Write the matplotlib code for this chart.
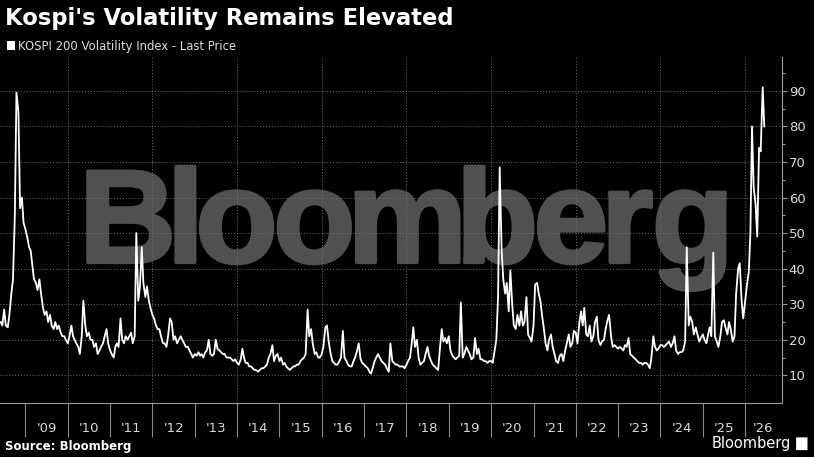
import pandas as pd
import matplotlib
matplotlib.use("Agg")
import matplotlib.pyplot as plt
import matplotlib.dates as mdates
from matplotlib.ticker import FixedLocator, FixedFormatter, NullFormatter
from matplotlib.textpath import TextPath
from matplotlib.path import Path
from matplotlib.patches import PathPatch, Patch, FancyBboxPatch
from matplotlib.font_manager import FontProperties
from matplotlib.transforms import Affine2D

vix_2008 = [25, 24, 28.5, 24, 23.5, 27, 33, 37, 55, 89.5, 84, 57, 60, 53]  # from June
vix_2009 = [51, 49, 46, 45, 41, 37, 36, 34, 37, 33, 29, 27, 28, 25, 27, 24, 23, 25, 23, 24, 22, 21, 21, 20]
vix_2010 = [19, 21, 24, 21, 20, 19, 18, 16, 21, 31, 24, 21, 22, 20, 20, 18, 19, 16, 17, 18, 19, 21, 23, 19]
vix_2011 = [17, 16, 15, 18, 19, 18, 26, 20, 19, 21, 20, 21, 22, 19, 21, 50, 31, 35, 46, 36, 32, 35, 31, 29]
vix_2012 = [27, 26, 24, 23, 23, 21, 19, 19, 18, 21, 26, 25, 20, 21, 19, 20, 21, 20, 19, 18, 18, 17, 16, 15]
vix_2013 = [16, 15.5, 16.5, 15.5, 16, 15, 16.5, 17, 20, 16, 15.5, 16, 20, 17.5, 17, 16.5, 16, 16, 15, 15, 15, 14.5, 14, 14.5]
vix_2014 = [13.5, 13, 14.5, 17.5, 15, 13.5, 13.5, 12.5, 12.5, 12, 11.5, 11.5, 11, 11.5, 12, 12, 12.5, 13, 15, 16, 18.5, 14, 15.5, 16]
vix_2015 = [14, 15, 13, 13.5, 12.5, 12, 11.5, 12, 12.5, 12.5, 13, 13, 14, 14.5, 15, 16, 28.5, 21, 23, 19, 16, 16.5, 15, 15]
vix_2016 = [16, 18, 23.5, 24, 19.5, 16.5, 14, 13.5, 13, 13, 14, 15, 22.5, 15, 14, 13, 12.5, 12.5, 14, 15, 17, 19, 14.5, 13.5]
vix_2017 = [13, 12.5, 12, 11, 10.5, 12, 14, 15, 16, 15, 14, 13.5, 13, 12, 11, 19, 14, 13.5, 13, 13, 12.5, 12.5, 12.5, 12]
vix_2018 = [13, 14, 15, 19, 23.5, 18, 20, 15, 13, 13.5, 14, 16, 18, 15.5, 14, 13, 12.5, 12, 11.5, 17, 23, 19.5, 20.5, 19]
vix_2019 = [21, 17, 15.5, 15, 14.5, 15, 15.5, 30.5, 15, 16, 18, 17, 16, 14.5, 15, 20.5, 16, 17.5, 14.5, 14.5, 14, 14, 13.5, 14]
vix_2020 = [14, 13.5, 17, 20, 32, 68.5, 45, 37, 33, 36, 28, 39.5, 30, 24, 23, 27, 24, 28, 24, 25, 32, 21.5, 20.5, 19.5]
vix_2021 = [24, 35.5, 36, 33, 31, 27, 23, 19, 17, 20, 21.5, 18, 16, 14, 13.5, 15.5, 16, 14, 17, 19, 21.5, 18, 19, 22.5]
vix_2022 = [22, 19, 25, 28, 24, 29, 21.5, 21, 24, 19.5, 21, 25, 26.5, 20, 18.5, 19.5, 20, 23, 25.5, 27, 21, 18, 18.5, 18]
vix_2023 = [17.5, 18, 17.5, 17, 18.5, 18, 20.5, 16, 15.5, 15, 14.5, 14, 13.5, 13.5, 13, 13.5, 13.5, 13, 12, 15, 21, 18, 17, 17.5]
vix_2024 = [18.5, 18.5, 18, 18.5, 19, 19.5, 18, 19, 21, 17, 16, 16.5, 16.5, 17, 19.5, 46, 24, 26.5, 25, 21.5, 23.5, 21.5, 19.5, 20.5]
vix_2025 = [21.5, 20, 19, 21.5, 23.5, 21, 44.5, 21, 19.5, 18, 21, 25, 25.5, 23.5, 21.5, 25, 22.5, 19.5, 21, 33, 40, 41.5, 31, 26]
vix_2026 = [31, 35, 39, 50, 80, 63, 58, 49, 74, 73, 91, 80]  # to mid-June

title = "Kospi's Volatility Remains Elevated"
series_label = "KOSPI 200 Volatility Index - Last Price"
source = "Source: Bloomberg"
year_labels = ["'09", "'10", "'11", "'12", "'13", "'14", "'15", "'16", "'17",
               "'18", "'19", "'20", "'21", "'22", "'23", "'24", "'25", "'26"]
y_ticks = [10, 20, 30, 40, 50, 60, 70, 80, 90]

values = (vix_2008 + vix_2009 + vix_2010 + vix_2011 + vix_2012 + vix_2013 + vix_2014
          + vix_2015 + vix_2016 + vix_2017 + vix_2018 + vix_2019 + vix_2020 + vix_2021
          + vix_2022 + vix_2023 + vix_2024 + vix_2025 + vix_2026)
dates = pd.date_range("2008-06-01", periods=len(values), freq="SMS")

fig = plt.figure(figsize=(8.14, 4.57), dpi=100, facecolor="black")
ax = fig.add_axes([0.0, 0.1188, 0.9603, 0.7562])
ax.set_facecolor("black")

x0 = pd.Timestamp("2008-05-26")
x1 = pd.Timestamp("2026-11-12")
ax.set_xlim(x0, x1)
ax.set_ylim(2.3, 99.5)

# big grey watermark behind the grid, letters set tight one by one
fp = FontProperties(family="Liberation Sans", weight="bold")
pieces = []
pen = 0.0
for ch in "Bloomberg":
    glyph = TextPath((0, 0), ch, size=1, prop=fp)
    e = glyph.get_extents()
    pieces.append(glyph.transformed(Affine2D().translate(pen - e.x0, 0)))
    pen += e.width + 0.045
wm = Path.make_compound_path(*pieces)
ext = wm.get_extents()
cap = TextPath((0, 0), "B", size=1, prop=fp).get_extents().y1
sx = (637 / 814) / ext.width
sy = (91 / 457) / cap
tr = Affine2D().translate(-ext.x0, 0).scale(sx, sy).translate(88 / 814, 1 - 262.3 / 457)
# a thin outline in the same grey makes the strokes as heavy as the original
ax.add_patch(PathPatch(wm, transform=tr + fig.transFigure, facecolor="#505050",
                       edgecolor="#505050", lw=2.6, joinstyle="round",
                       zorder=0.5, clip_on=False))

ax.plot(dates, values, color="white", lw=1.3, zorder=3)

# grid
ax.grid(True, axis="y", which="major", color="#707070", linestyle=(0, (1, 2)), lw=0.7)
for yr in range(2010, 2027, 2):
    ax.axvline(pd.Timestamp(f"{yr}-01-01"), color="#707070", linestyle=(0, (1, 2)), lw=0.7, zorder=1.5)

# x axis: year boundaries as long ticks, labels centred in each year
ax.xaxis.set_major_locator(mdates.YearLocator(1))
ax.xaxis.set_major_formatter(NullFormatter())
label_pos = []
for i in range(len(year_labels)):
    start = mdates.date2num(pd.Timestamp(f"{2009 + i}-01-01"))
    end = min(mdates.date2num(pd.Timestamp(f"{2010 + i}-01-01")), mdates.date2num(x1))
    label_pos.append((start + end) / 2)
ax.xaxis.set_minor_locator(FixedLocator(label_pos))
ax.xaxis.set_minor_formatter(FixedFormatter(year_labels))
ax.tick_params(axis="x", which="major", length=24.5, width=0.8, color="#8a8a8a")
ax.tick_params(axis="x", which="minor", length=0, pad=14, labelsize=9.5, labelcolor="#d9d9d9")

# y axis on the right
ax.yaxis.tick_right()
ax.set_yticks(y_ticks)
ax.set_yticks([t + 5 for t in y_ticks], minor=True)
ax.tick_params(axis="y", which="major", length=3.5, width=0.8, pad=1.5, color="#9a9a9a",
               labelsize=9.5, labelcolor="#d9d9d9")
ax.tick_params(axis="y", which="minor", length=2, width=0.8, color="#9a9a9a")

for side in ["top", "left"]:
    ax.spines[side].set_visible(False)
for side in ["right", "bottom"]:
    ax.spines[side].set_color("#9a9a9a")
    ax.spines[side].set_linewidth(0.8)

fig.text(0.006, 0.985, title, color="white", fontsize=16.3, fontweight="bold", va="top")
ax.legend(handles=[Patch(facecolor="white", label=series_label)], loc="center left",
          bbox_to_anchor=(0.0085, 0.899), bbox_transform=fig.transFigure, frameon=False,
          handlelength=0.7, handleheight=0.7, handletextpad=0.25, borderpad=0,
          borderaxespad=0, fontsize=8.4, labelcolor="#dddddd")

fig.text(0.006, 0.022, source, color="white", fontsize=8.5, fontweight="bold", va="center")
fig.text(0.972, 0.029, "Bloomberg", color="white", fontsize=10.5, ha="right", va="center")
fig.patches.append(FancyBboxPatch((0.979, 0.016), 0.012, 0.026, boxstyle="round,pad=0.001",
                                  transform=fig.transFigure, facecolor="white", edgecolor="none"))

fig.savefig("out.png", dpi=100, facecolor="black")
